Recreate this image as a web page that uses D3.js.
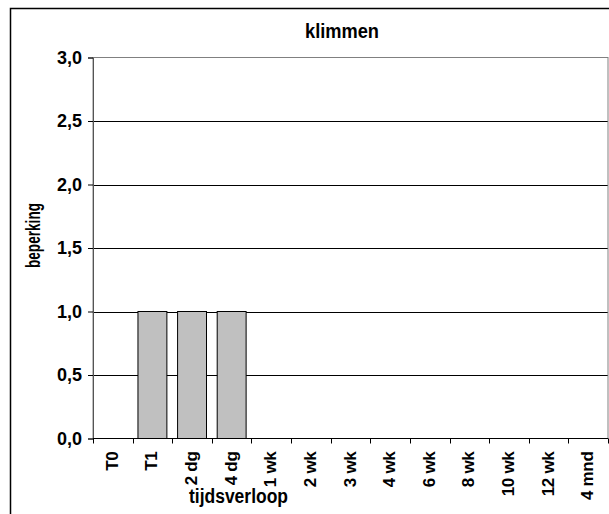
<!DOCTYPE html>
<html>
<head>
<meta charset="utf-8">
<script src="https://cdn.jsdelivr.net/npm/d3@7"></script>
<style>
  html, body { margin: 0; padding: 0; background: #fff; }
  svg { display: block; }
  text { font-family: "Liberation Sans", Arial, sans-serif; font-weight: bold; fill: #000; }
</style>
</head>
<body>
<svg id="chart" width="609" height="514"></svg>
<script>
// Tijdsverloop categories and beperking values for "klimmen"
const categories = ["T0", "T1", "2 dg", "4 dg", "1 wk", "2 wk", "3 wk", "4 wk", "6 wk", "8 wk", "10 wk", "12 wk", "4 mnd"];
const values = [0, 1, 1, 1, 0, 0, 0, 0, 0, 0, 0, 0, 0];
const yTicks = [0, 0.5, 1.0, 1.5, 2.0, 2.5, 3.0];
const chartTitle = "klimmen";
const xTitle = "tijdsverloop";
const yTitle = "beperking";

const svg = d3.select("#chart");
const plot = { left: 93, top: 57.5, right: 608, bottom: 438.5 };

// Outer chart frame
svg.append("rect")
  .attr("x", 10.5).attr("y", 8.5)
  .attr("width", 620).attr("height", 540)
  .attr("fill", "#fff").attr("stroke", "#000").attr("stroke-width", 1.5);

const x = d3.scaleBand().domain(categories).range([plot.left, plot.right]).paddingInner(0.27).paddingOuter(0.135);
const xBands = d3.scaleBand().domain(categories).range([plot.left, plot.right]);
const y = d3.scaleLinear().domain([0, 3]).range([plot.bottom, plot.top]);

// Horizontal gridlines
svg.append("g").selectAll("line").data(yTicks.filter(d => d > 0 && d < 3)).join("line")
  .attr("x1", plot.left).attr("x2", plot.right)
  .attr("y1", d => Math.round(y(d)) + 0.5).attr("y2", d => Math.round(y(d)) + 0.5)
  .attr("stroke", "#000").attr("stroke-width", 1);

// Plot area border
svg.append("rect")
  .attr("x", plot.left).attr("y", plot.top)
  .attr("width", plot.right - plot.left).attr("height", plot.bottom - plot.top)
  .attr("fill", "none").attr("stroke", "#808080").attr("stroke-width", 1);

// Bars
svg.append("g").selectAll("rect").data(categories.map((c, i) => ({ c, v: values[i] })).filter(d => d.v > 0)).join("rect")
  .attr("x", d => x(d.c)).attr("width", x.bandwidth())
  .attr("y", d => y(d.v)).attr("height", d => y(0) - y(d.v))
  .attr("fill", "#c0c0c0").attr("stroke", "#000").attr("stroke-width", 1);

// Y axis
const yAxis = d3.axisLeft(y).tickValues(yTicks).tickSize(5).tickPadding(6)
  .tickFormat(d => d3.format(".1f")(d).replace(".", ","));
const gy = svg.append("g").attr("transform", `translate(${plot.left},0)`).call(yAxis);
gy.select(".domain").attr("stroke", "#555");
gy.selectAll(".tick line").attr("stroke", "#000");
gy.selectAll(".tick text").style("font-size", "18px").style("font-family", "'Liberation Sans', Arial, sans-serif").style("font-weight", "bold");

// X axis: ticks at band boundaries
const gx = svg.append("g").attr("transform", `translate(0,${plot.bottom})`);
gx.append("line").attr("x1", plot.left).attr("x2", plot.right).attr("stroke", "#000");
gx.selectAll("line.tk").data(categories.concat(["end"])).join("line").attr("class", "tk")
  .attr("x1", (d, i) => Math.round(plot.left + i * xBands.step()) + 0.5)
  .attr("x2", (d, i) => Math.round(plot.left + i * xBands.step()) + 0.5)
  .attr("y1", 0).attr("y2", 5).attr("stroke", "#000");
gx.selectAll("text").data(categories).join("text")
  .attr("transform", d => `translate(${xBands(d) + xBands.bandwidth() / 2 + 5},13) rotate(-90)`)
  .attr("text-anchor", "end")
  .style("font-size", "17px")
  .style("letter-spacing", "-0.3px")
  .text(d => d);

// Titles
svg.append("text").attr("x", 342).attr("y", 38).attr("text-anchor", "middle")
  .attr("textLength", 74).attr("lengthAdjust", "spacingAndGlyphs")
  .style("font-size", "21px").text(chartTitle);
svg.append("text").attr("x", 238.5).attr("y", 503).attr("text-anchor", "middle")
  .attr("textLength", 99).attr("lengthAdjust", "spacingAndGlyphs")
  .style("font-size", "20px").text(xTitle);
svg.append("text").attr("transform", "translate(39.5,235.5) rotate(-90)").attr("text-anchor", "middle")
  .attr("textLength", 65).attr("lengthAdjust", "spacingAndGlyphs")
  .style("font-size", "20px").text(yTitle);
</script>
</body>
</html>
